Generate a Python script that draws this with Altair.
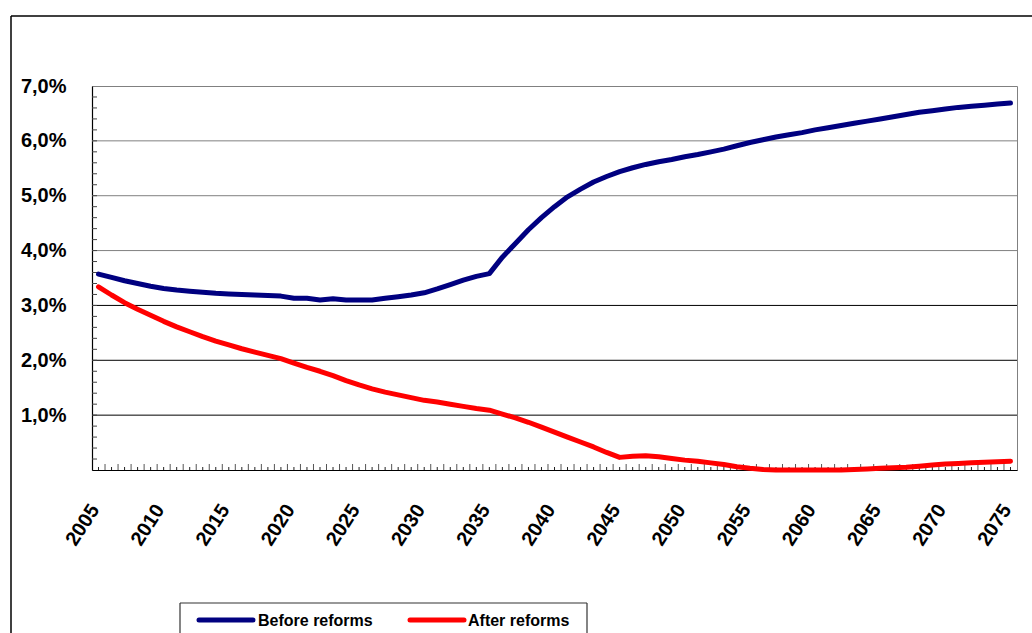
import altair as alt
import pandas as pd
import numpy as np

# Pension balance projections, % of GDP
YEARS = list(range(2005, 2076))
BEFORE = [
    3.57, 3.51, 3.45, 3.40, 3.35, 3.31, 3.28, 3.26, 3.24, 3.22,
    3.21, 3.20, 3.19, 3.18, 3.17, 3.13, 3.13, 3.10, 3.12, 3.10,
    3.10, 3.10, 3.13, 3.16, 3.19, 3.23, 3.30, 3.38, 3.46, 3.53,
    3.58, 3.88, 4.13, 4.38, 4.60, 4.80, 4.98, 5.12, 5.25, 5.35,
    5.44, 5.51, 5.57, 5.62, 5.66, 5.71, 5.75, 5.80, 5.85, 5.91,
    5.97, 6.02, 6.07, 6.11, 6.15, 6.20, 6.24, 6.28, 6.32, 6.36,
    6.40, 6.44, 6.48, 6.52, 6.55, 6.58, 6.61, 6.63, 6.65, 6.67,
    6.69,
]
AFTER = [
    3.34, 3.19, 3.05, 2.93, 2.82, 2.71, 2.61, 2.52, 2.43, 2.35,
    2.28, 2.21, 2.15, 2.09, 2.03, 1.95, 1.87, 1.80, 1.72, 1.63,
    1.55, 1.48, 1.42, 1.37, 1.32, 1.27, 1.24, 1.20, 1.16, 1.12,
    1.09, 1.02, 0.95, 0.87, 0.78, 0.69, 0.60, 0.51, 0.42, 0.32,
    0.23, 0.25, 0.26, 0.24, 0.21, 0.18, 0.16, 0.13, 0.10, 0.06,
    0.03, 0.01, 0.00, 0.00, 0.00, 0.00, 0.00, 0.00, 0.01, 0.02,
    0.03, 0.04, 0.05, 0.07, 0.09, 0.11, 0.12, 0.13, 0.14, 0.15,
    0.16,
]
SERIES = ["Before reforms", "After reforms"]
COLORS = ["#000080", "#FF0000"]
LABEL_YEARS = list(range(2005, 2076, 5))
Y_LABELS = [1, 2, 3, 4, 5, 6, 7]

W, H = 925, 384
SANS = "Liberation Sans, Arial"

df = pd.DataFrame({
    "year": YEARS * 2,
    "value": BEFORE + AFTER,
    "series": [SERIES[0]] * len(YEARS) + [SERIES[1]] * len(YEARS),
})

x_scale = alt.Scale(domain=[YEARS[0] - 0.5, YEARS[-1] + 0.5], nice=False, zero=False)
y_scale = alt.Scale(domain=[0, 7], nice=False)

X_AXIS = alt.Axis(values=LABEL_YEARS, format="d", title=None, grid=False,
                  ticks=False, tickSize=0, domainColor="#000000", domainWidth=1.2,
                  labelAngle=-57, labelAlign="right", labelBaseline="middle",
                  labelPadding=36, labelOffset=-4, labelFont=SANS, labelFontSize=20,
                  labelFontWeight="bold", labelColor="#000000",
                  labelOverlap=False, labelFlush=False)
Y_AXIS = alt.Axis(values=Y_LABELS, title=None, grid=False, ticks=False, tickSize=0,
                  domainColor="#000000", domainWidth=1.2,
                  labelExpr="replace(format(datum.value, '.1f'), '.', ',') + '%'",
                  labelPadding=26, labelFont=SANS, labelFontSize=20,
                  labelFontWeight="bold", labelColor="#000000")

# horizontal gridlines: upper ones grey, lower ones black
grid_df = pd.DataFrame({"value": [1, 2, 3, 4, 5, 6],
                        "c": ["#000000"] * 3 + ["#808080"] * 3})
grid = alt.Chart(grid_df).mark_rule(strokeWidth=1).encode(
    y=alt.Y("value:Q", scale=y_scale, axis=Y_AXIS),
    color=alt.Color("c:N", scale=None),
)

# inward minor ticks on the value axis
ytick_df = pd.DataFrame({"value": np.round(np.arange(0.2, 7.0, 0.2), 1)})
yticks = alt.Chart(ytick_df).mark_rule(color="#444444", strokeWidth=1).encode(
    y=alt.Y("value:Q", scale=y_scale, axis=Y_AXIS),
    x=alt.value(0), x2=alt.value(5),
)

# inward ticks on the category axis: tall at boundaries, short at centres
bound_df = pd.DataFrame({"year": [y + 0.5 for y in YEARS[:-1]]})
xticks_major = alt.Chart(bound_df).mark_rule(color="#555555", strokeWidth=1).encode(
    x=alt.X("year:Q", scale=x_scale, axis=X_AXIS),
    y=alt.value(H), y2=alt.value(H - 6),
)
cent_df = pd.DataFrame({"year": YEARS})
xticks_minor = alt.Chart(cent_df).mark_rule(color="#222222", strokeWidth=1).encode(
    x=alt.X("year:Q", scale=x_scale, axis=X_AXIS),
    y=alt.value(H), y2=alt.value(H - 3),
)

lines = alt.Chart(df).mark_line(strokeWidth=5, strokeCap="round", strokeJoin="round").encode(
    x=alt.X("year:Q", scale=x_scale, axis=X_AXIS),
    y=alt.Y("value:Q", scale=y_scale, axis=Y_AXIS),
    color=alt.Color("series:N", scale=alt.Scale(domain=SERIES, range=COLORS), legend=None),
    order=alt.Order("year:Q"),
)

# outer frame of the figure
frame_top = alt.Chart(pd.DataFrame({"k": [0]})).mark_rule(color="#000000", strokeWidth=1.5).encode(
    x=alt.value(-81), x2=alt.value(1032), y=alt.value(-70))
frame_left = alt.Chart(pd.DataFrame({"k": [0]})).mark_rule(color="#000000", strokeWidth=1.5).encode(
    x=alt.value(-81), y=alt.value(-70), y2=alt.value(600))

# legend box with its two entries
box_style = dict(color="#333333", strokeWidth=1.2)
leg_top = alt.Chart(pd.DataFrame({"k": [0]})).mark_rule(**box_style).encode(
    x=alt.value(88), x2=alt.value(495), y=alt.value(517))
leg_left = alt.Chart(pd.DataFrame({"k": [0]})).mark_rule(**box_style).encode(
    x=alt.value(88), y=alt.value(517), y2=alt.value(560))
leg_right = alt.Chart(pd.DataFrame({"k": [0]})).mark_rule(**box_style).encode(
    x=alt.value(495), y=alt.value(517), y2=alt.value(560))

legend_layers = []
for name, col, lx0, tx in [(SERIES[0], COLORS[0], 107, 166), (SERIES[1], COLORS[1], 318, 376)]:
    sdf = pd.DataFrame({"s": [name]})
    legend_layers.append(
        alt.Chart(sdf).mark_rule(color=col, strokeWidth=5, strokeCap="round").encode(
            x=alt.value(lx0), x2=alt.value(lx0 + 54), y=alt.value(534)))
    legend_layers.append(
        alt.Chart(sdf).mark_text(align="left", baseline="middle", font=SANS, fontSize=16,
                                 fontWeight="bold", color="#000000").encode(
            text="s:N", x=alt.value(tx), y=alt.value(535)))

chart = alt.layer(
    grid, yticks, xticks_major, xticks_minor, lines,
    frame_top, frame_left, leg_top, leg_left, leg_right, *legend_layers,
).properties(
    width=W, height=H,
    autosize=alt.AutoSizeParams(type="none"),
    padding={"left": 92, "top": 86, "right": 15, "bottom": 163},
    background="#ffffff",
).configure_view(
    stroke="#808080", strokeWidth=1,
)

chart.save("out.html", embed_options={"renderer": "svg", "actions": False})
